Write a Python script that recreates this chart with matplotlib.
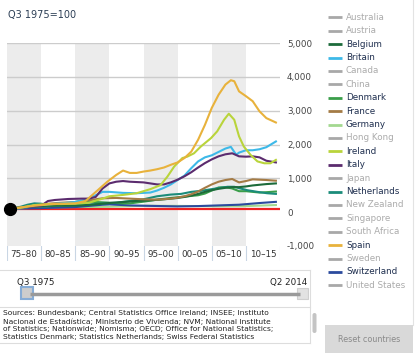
import matplotlib as mp
mp.use('Agg')
import matplotlib.pyplot as plt
from matplotlib.patches import Rectangle, FancyBboxPatch

W, H = 420, 353

# house price index, Q3 1975=100
spain_yr = [1975.5, 1977, 1979, 1981, 1983, 1985, 1986.5, 1988.3, 1989.7, 1991, 1992, 1993, 1994,
            1995, 1996, 1997, 1998, 1999, 2000, 2001, 2002, 2003, 2004, 2005, 2006, 2007,
            2007.8, 2008.3, 2009, 2010, 2011, 2012, 2013, 2014.4]
spain = [100, 140, 190, 230, 250, 260, 330, 650, 900, 1100, 1230, 1160, 1160,
         1200, 1230, 1270, 1320, 1400, 1470, 1600, 1790, 2140, 2580, 3080, 3470, 3770,
         3900, 3870, 3570, 3430, 3280, 2980, 2780, 2650]

ireland_yr = [1975.5, 1977, 1979, 1981, 1983, 1985, 1987, 1989, 1990, 1992, 1994, 1996, 1997.5,
              1998.5, 1999.5, 2000.7, 2001.4, 2002.4, 2003.4, 2004.9, 2005.8, 2006.8, 2007.5,
              2008.3, 2009, 2009.7, 2010.7, 2011.7, 2012.7, 2013.6, 2014.4]
ireland = [100, 130, 210, 240, 240, 250, 280, 400, 470, 510, 560, 680, 800,
           1050, 1350, 1600, 1640, 1740, 1940, 2190, 2390, 2730, 2910,
           2730, 2240, 1940, 1690, 1500, 1445, 1445, 1545]

britain_yr = [1975.5, 1977, 1979, 1981, 1983, 1985, 1987, 1988, 1989, 1990, 1992, 1994, 1996,
              1997, 1998, 1999, 2000, 2001, 2002, 2003, 2004, 2005, 2006, 2007, 2007.8,
              2008.3, 2008.6, 2009, 2010, 2011, 2012, 2013, 2014.4]
britain = [100, 120, 180, 230, 260, 300, 400, 500, 600, 600, 570, 560, 580,
           640, 720, 820, 950, 1080, 1300, 1500, 1620, 1680, 1780, 1880, 1930,
           1780, 1700, 1760, 1830, 1830, 1860, 1920, 2090]

italy_yr = [1975.5, 1977, 1979, 1980, 1980.5, 1981, 1982, 1984, 1986, 1987, 1988, 1989, 1990,
            1991, 1992, 1993, 1995, 1996, 1997, 1998, 1999, 2000, 2001, 2002, 2003, 2004,
            2005, 2006, 2007, 2008, 2009, 2010, 2011, 2012, 2013, 2014.4]
italy = [100, 130, 170, 190, 260, 330, 360, 390, 400, 400, 450, 700, 850,
         900, 920, 900, 880, 850, 820, 820, 880, 960, 1060, 1180, 1320, 1450,
         1560, 1650, 1710, 1740, 1650, 1640, 1650, 1620, 1520, 1470]

france_yr = [1975.5, 1977, 1979, 1981, 1983, 1985, 1987, 1989, 1991, 1993, 1995, 1997, 1999,
             2000, 2001, 2002, 2003, 2004, 2005, 2006, 2007, 2008, 2009, 2010, 2011, 2012,
             2013, 2014.4]
france = [100, 140, 190, 250, 280, 300, 350, 410, 420, 400, 380, 370, 400,
          430, 470, 530, 610, 720, 820, 900, 950, 980, 880, 920, 970, 960,
          950, 930]

belgium_yr = [1975.5, 1977, 1979, 1981, 1984, 1986, 1988, 1990, 1992, 1994, 1996, 1998, 2000,
              2001, 2002, 2003, 2004, 2005, 2006, 2007, 2008, 2009, 2010, 2011, 2012, 2013,
              2014.4]
belgium = [100, 130, 170, 190, 190, 200, 230, 270, 300, 330, 350, 380, 420,
           450, 490, 540, 600, 650, 690, 720, 740, 740, 760, 790, 810, 830,
           850]

netherlands_yr = [1975.5, 1977, 1978, 1979, 1980, 1981, 1983, 1985, 1987, 1989, 1991, 1993, 1995,
                  1997, 1999, 2000.5, 2002, 2003.4, 2005.3, 2007.3, 2008.3, 2009.2, 2010.2,
                  2011.7, 2013.1, 2014.4]
netherlands = [100, 160, 220, 260, 250, 220, 195, 205, 225, 255, 280, 330, 380,
               470, 520, 540, 600, 630, 690, 750, 750, 700, 650,
               600, 560, 540]

denmark_yr = [1975.5, 1977, 1979, 1981, 1983, 1985, 1986, 1988, 1990, 1992, 1993, 1995, 1997,
              1999, 2001, 2003, 2004, 2005, 2006, 2007, 2008, 2009, 2010, 2011, 2012, 2013,
              2014.4]
denmark = [100, 130, 170, 170, 220, 300, 320, 300, 280, 260, 260, 310, 370,
           420, 460, 500, 550, 640, 730, 740, 700, 620, 620, 600, 580, 590,
           610]

germany_yr = [1975.5, 1980, 1985, 1990, 1995, 2000, 2005, 2010, 2014.4]
germany = [100, 140, 150, 160, 190, 185, 175, 180, 210]

swiss_yr = [1975.5, 1980, 1985, 1989, 1990, 1993, 1995, 2000, 2003, 2006, 2009, 2012, 2014.4]
swiss = [100, 120, 150, 220, 230, 200, 190, 170, 180, 200, 220, 270, 305]

countries = ["Australia", "Austria", "Belgium", "Britain", "Canada", "China", "Denmark",
             "France", "Germany", "Hong Kong", "Ireland", "Italy", "Japan", "Netherlands",
             "New Zealand", "Singapore", "South Africa", "Spain", "Sweden", "Switzerland",
             "United States"]
colors = {"Belgium": "#1d6b3b", "Britain": "#3db9e8", "Denmark": "#3a9e4a",
          "France": "#a47b45", "Germany": "#a3d890", "Ireland": "#b9d43b",
          "Italy": "#5b2b6e", "Netherlands": "#1b8c7a", "Spain": "#e8b23c",
          "Switzerland": "#2b4b9e"}

series = [("Germany", germany_yr, germany), ("Switzerland", swiss_yr, swiss),
          ("Denmark", denmark_yr, denmark), ("Netherlands", netherlands_yr, netherlands),
          ("Belgium", belgium_yr, belgium), ("France", france_yr, france),
          ("Britain", britain_yr, britain), ("Italy", italy_yr, italy),
          ("Ireland", ireland_yr, ireland), ("Spain", spain_yr, spain)]

periods = ["75–80", "80–85", "85–90", "90–95", "95–00", "00–05", "05–10", "10–15"]
yticks = [-1000, 0, 1000, 2000, 3000, 4000, 5000]

sources = ["Sources: Bundesbank; Central Statistics Office Ireland; INSEE; Instituto",
           "Nacional de Estadística; Ministerio de Vivienda; NVM; National Institute",
           "of Statistics; Nationwide; Nomisma; OECD; Office for National Statistics;",
           "Statistics Denmark; Statistics Netherlands; Swiss Federal Statistics"]


def px(x0, y0, x1, y1):
    return [x0 / W, 1 - y1 / H, (x1 - x0) / W, (y1 - y0) / H]


fig = plt.figure(figsize=(W / 100, H / 100), dpi=100)

# overlay in pixel coords for the widget chrome
ov = fig.add_axes([0, 0, 1, 1])
ov.set_xlim(0, W)
ov.set_ylim(H, 0)
ov.axis('off')

ov.text(8, 15, "Q3 1975=100", fontsize=7, color="#2c3e55", va='center')

# legend
for i, c in enumerate(countries):
    y = 17.3 + i * 13.4
    active = c in colors
    ov.plot([328, 342], [y, y], color=colors.get(c, "#a8a8a8"), lw=2, solid_capstyle='butt')
    ov.text(346, y, c, fontsize=6.3, va='center',
            color="#1f2f4f" if active else "#ababab")
ov.plot([413, 413], [0, 325], color="#e3e3e3", lw=0.8)

# slider panel
ov.plot([0, 310], [270, 270], color="#dddddd", lw=0.8)
ov.plot([310, 310], [270, 343], color="#dddddd", lw=0.8)
ov.plot([0, 310], [307, 307], color="#dddddd", lw=0.8)
ov.plot([0, 310], [343, 343], color="#dddddd", lw=0.8)
ov.text(17, 282, "Q3 1975", fontsize=6.3, color="#222222", va='center')
ov.text(307, 282, "Q2 2014", fontsize=6.3, color="#222222", va='center', ha='right')
ov.plot([30, 300], [293.5, 293.5], color="#9a9a9a", lw=2.5, solid_capstyle='butt')
ov.add_patch(Rectangle((297, 288), 11, 11, facecolor="#e2e2e2", edgecolor="#cfcfcf", lw=0.8))
ov.add_patch(Rectangle((21, 287), 12, 12, facecolor="#cdcdcd", edgecolor="#86acd6", lw=1.5))
for i, line in enumerate(sources):
    ov.text(3, 313.5 + i * 7.8, line, fontsize=5.4, color="#222222", va='center')
ov.add_patch(FancyBboxPatch((312.5, 313), 4, 20, boxstyle="round,pad=0,rounding_size=2",
                            facecolor="#c4c4c4", edgecolor='none'))

# reset button
ov.add_patch(Rectangle((325, 325), 88, 28, facecolor="#d9d9d9", edgecolor='none'))
ov.text(369, 339, "Reset countries", fontsize=5.8, color="#8a8a8a", ha='center', va='center')

# main chart
ax = fig.add_axes(px(7, 43, 280, 246))
ax.set_xlim(1975, 2015)
ax.set_ylim(-1000, 5000)
for k in range(0, 8, 2):
    ax.axvspan(1975 + 5 * k, 1980 + 5 * k, color="#ececec", lw=0, zorder=0)
for v in [1000, 2000, 3000, 4000, 5000]:
    ax.axhline(v, color="#cccccc", lw=1, zorder=1)
ax.axhline(100, color="#ee2222", lw=1.6, zorder=2)
for name, xs, ys in series:
    ax.plot(xs, ys, color=colors[name], lw=1.5, zorder=3)
ax.plot([1975.5], [100], 'o', color='black', ms=8.5, clip_on=False, zorder=5)
for s in ax.spines.values():
    s.set_visible(False)
ax.set_xticks([])
ax.yaxis.tick_right()
ax.set_yticks(yticks)
ax.set_yticklabels([f"{v:,}" for v in yticks])
ax.tick_params(axis='y', length=0, pad=5, labelsize=6.3, labelcolor="#444444")
for lab in ax.get_yticklabels():
    lab.set_horizontalalignment('left')

# period boxes under the chart
tx = fig.add_axes(px(7, 246, 280, 261))
tx.set_xlim(1975, 2015)
tx.set_ylim(0, 1)
tx.axis('off')
for k, p in enumerate(periods):
    tx.plot([1975 + 5 * k] * 2, [0, 1], color="#c9d6e4", lw=0.8)
    tx.text(1977.5 + 5 * k, 0.45, p, fontsize=6.3, color="#333333", ha='center', va='center')
tx.plot([2015, 2015], [0, 1], color="#c9d6e4", lw=0.8)

fig.savefig("out.png", dpi=100)
